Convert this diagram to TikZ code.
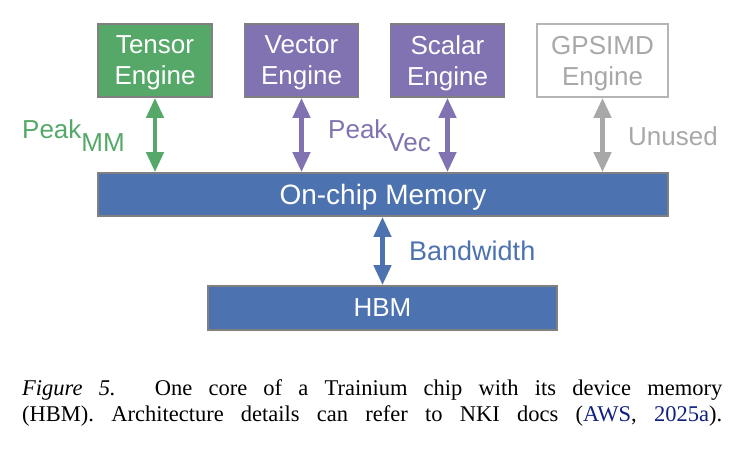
\documentclass[tikz,border=0pt]{standalone}
\usepackage{fontspec}
\setmainfont{Liberation Serif}
\setsansfont{Liberation Sans}
\usetikzlibrary{arrows.meta}
\definecolor{tensorcol}{RGB}{85,168,104}
\definecolor{veccol}{RGB}{129,114,178}
\definecolor{memcol}{RGB}{76,114,176}
\definecolor{unusedcol}{gray}{0.66}
\definecolor{edgecol}{gray}{0.5}
\definecolor{citecol}{RGB}{16,32,128}
\tikzset{
  unit/.style={draw=edgecol,line width=1.8pt,inner sep=0pt,text depth=0pt,align=center,text=white,font=\sffamily\fontsize{26}{31}\selectfont},
  engine/.style={unit,minimum width=114pt,minimum height=73pt},
  lab/.style={anchor=base west,inner sep=0pt,font=\sffamily\fontsize{26}{31}\selectfont},
  link/.style={line width=4.5pt,{Triangle[length=20pt,width=17pt]}-{Triangle[length=20pt,width=17pt]}},
  capt/.style={anchor=north west,inner sep=0pt,align=left,font=\fontsize{22.5}{26}\selectfont},
}
\begin{document}
\begin{tikzpicture}[x=1pt,y=-1pt]
  \useasboundingbox (0,0) rectangle (744,450);
  % engines
  \node[engine,fill=tensorcol] (tensor) at (155,60.5) {Tensor\\Engine};
  \node[engine,fill=veccol] (vector) at (301.5,60.5) {Vector\\Engine};
  \node[engine,fill=veccol] (scalar) at (447.5,60.5) {Scalar\\Engine};
  \node[engine,fill=white,draw=unusedcol!85,text=unusedcol,minimum width=131pt] (gpsimd) at (602.5,60.5) {GPSIMD\\Engine};
  % memories
  \node[unit,fill=memcol,minimum width=570pt,minimum height=43pt,font=\sffamily\fontsize{28}{31}\selectfont] (mem) at (383,194.5) {On-chip Memory};
  \node[unit,fill=memcol,minimum width=349pt,minimum height=44pt] (hbm) at (382.5,308) {HBM};
  % links
  \draw[link,tensorcol] (tensor.south) -- (tensor.south |- mem.north);
  \draw[link,veccol] (vector.south) -- (vector.south |- mem.north);
  \draw[link,veccol] (scalar.south) -- (scalar.south |- mem.north);
  \draw[link,unusedcol] (gpsimd.south) -- (gpsimd.south |- mem.north);
  \draw[link,memcol] (hbm.north |- mem.south) -- (hbm.north);
  % labels
  \node[lab,text=tensorcol] (peakmm) at (22,138) {Peak\raisebox{-13.5pt}{MM}};
  \node[lab,text=veccol] (peakvec) at (328,138) {Peak\raisebox{-13.5pt}{Vec}};
  \node[lab,text=unusedcol] (unused) at (628,145) {Unused};
  \node[lab,text=memcol,font=\sffamily\fontsize{27}{31}\selectfont] (bw) at (409,260) {Bandwidth};
  % caption
  \node[capt] (caption) at (22,379.6) {\makebox[700pt][s]{\textit{Figure 5.} One core of a Trainium chip with its device memory}\\
    \makebox[700pt][s]{(HBM). Architecture details can refer to NKI docs (\textcolor{citecol}{AWS}, \textcolor{citecol}{2025a}).}};
\end{tikzpicture}
\end{document}
